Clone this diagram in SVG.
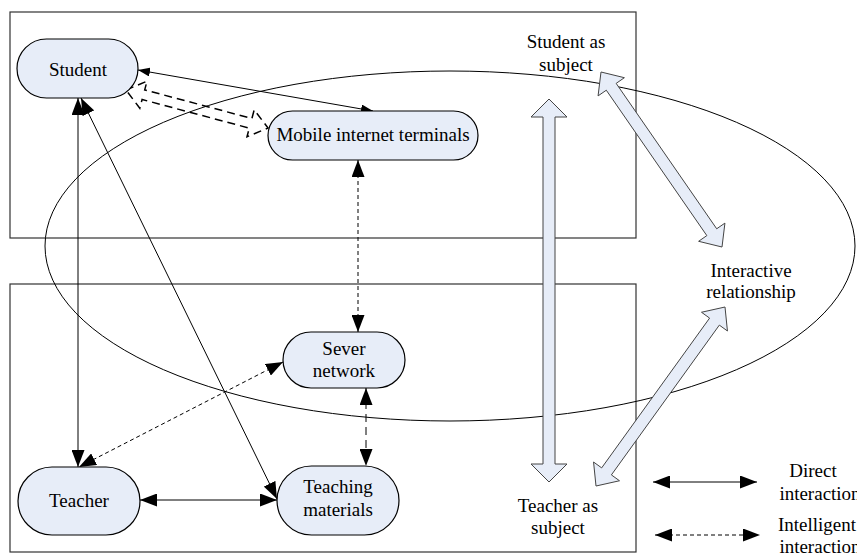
<svg xmlns="http://www.w3.org/2000/svg" width="857" height="554" viewBox="0 0 857 554">
<style>
text{font-family:"Liberation Serif","Times New Roman",serif;font-size:19px;fill:#000;text-anchor:middle}
.frame{fill:none;stroke:#333;stroke-width:1.2}
.node{fill:#e7edf8;stroke:#000;stroke-width:1.2}
.blk{fill:#e7edf8;stroke:#444;stroke-width:1}
.ln{fill:none;stroke:#000;stroke-width:1}
.big{marker-start:url(#ah);marker-end:url(#ah)}
.sm{marker-start:url(#ahs);marker-end:url(#ahs)}
.d1{stroke-dasharray:4 3}
.d2{stroke-dasharray:8 5}
</style>
<defs>
<marker id="ah" markerUnits="userSpaceOnUse" markerWidth="17" markerHeight="13" refX="17" refY="6.5" orient="auto-start-reverse" viewBox="0 0 17 13">
<path d="M0,0 L17,6.5 L0,13 z" fill="#000"/>
</marker>
<marker id="ahs" markerUnits="userSpaceOnUse" markerWidth="12" markerHeight="9" refX="12" refY="4.5" orient="auto-start-reverse" viewBox="0 0 12 9">
<path d="M0,0 L12,4.5 L0,9 z" fill="#000"/>
</marker>
</defs>
<rect width="857" height="554" fill="#fff"/>
<g id="frames">
<rect class="frame" x="10" y="12" width="626" height="226"/>
<rect class="frame" x="10" y="284" width="626" height="268"/>
</g>
<g id="interactive-ellipse">
<ellipse cx="450" cy="246" rx="405" ry="175" fill="none" stroke="#000" stroke-width="1"/>
</g>
<g id="connectors">
<line class="ln sm" x1="138" y1="70" x2="373" y2="111"/>
<line class="ln big" x1="78" y1="98" x2="78" y2="467"/>
<line class="ln big" x1="81" y1="98" x2="277" y2="499"/>
<line class="ln big" x1="140" y1="500" x2="277" y2="500"/>
<line class="ln big d1" x1="358" y1="160" x2="358" y2="332"/>
<line class="ln big d1" x1="283" y1="362" x2="79" y2="467"/>
<line class="ln big d2" x1="366" y1="388" x2="366" y2="466"/>
<polygon fill="none" stroke="#000" stroke-width="1.5" stroke-dasharray="8 5" points="126,90 147,81.2 144.7,89.9 251.9,118.5 254.2,109.8 268,128 247,136.8 249.3,128.1 142.1,99.5 139.8,108.2"/>
</g>
<g id="block-arrows">
<polygon class="blk" points="549,99 567,117 555,117 555,464 567,464 549,482 531,464 543,464 543,117 531,117"/>
<polygon class="blk" points="601,72 624.39,77.70 616.16,83.39 716.70,228.79 724.93,223.10 722,247 698.61,241.30 706.84,235.61 606.30,90.21 598.07,95.90"/>
<polygon class="blk" points="725,307 727.45,330.97 719.34,325.12 611.40,474.90 619.51,480.75 596,486 593.55,462.03 601.66,467.88 709.60,318.10 701.49,312.25"/>
</g>
<g id="student">
<rect class="node" x="17" y="39" width="121" height="59" rx="29.5"/>
<text x="78" y="76">Student</text>
</g>
<g id="mobile">
<rect class="node" x="268" y="111" width="210" height="49" rx="24.5"/>
<text x="373" y="141">Mobile internet terminals</text>
</g>
<g id="sever">
<rect class="node" x="283" y="332" width="122" height="56" rx="28"/>
<text x="344" y="355">Sever</text>
<text x="344" y="377">network</text>
</g>
<g id="teacher">
<rect class="node" x="18" y="467" width="122" height="68" rx="34"/>
<text x="79" y="507">Teacher</text>
</g>
<g id="materials">
<rect class="node" x="277" y="466" width="122" height="69" rx="34.5"/>
<text x="338" y="493">Teaching</text>
<text x="338" y="516">materials</text>
</g>
<g id="labels">
<text x="566" y="48">Student as</text>
<text x="566" y="71">subject</text>
<text x="751" y="277">Interactive</text>
<text x="751" y="298">relationship</text>
<text x="558" y="512">Teacher as</text>
<text x="558" y="534">subject</text>
</g>
<g id="legend">
<line class="ln big" x1="653" y1="482" x2="757" y2="482"/>
<line class="ln big d1" x1="655" y1="535" x2="760" y2="535"/>
<text x="813" y="477">Direct</text>
<text x="820" y="500">interaction</text>
<text x="817" y="531">Intelligent</text>
<text x="820" y="553">interaction</text>
</g>
</svg>
